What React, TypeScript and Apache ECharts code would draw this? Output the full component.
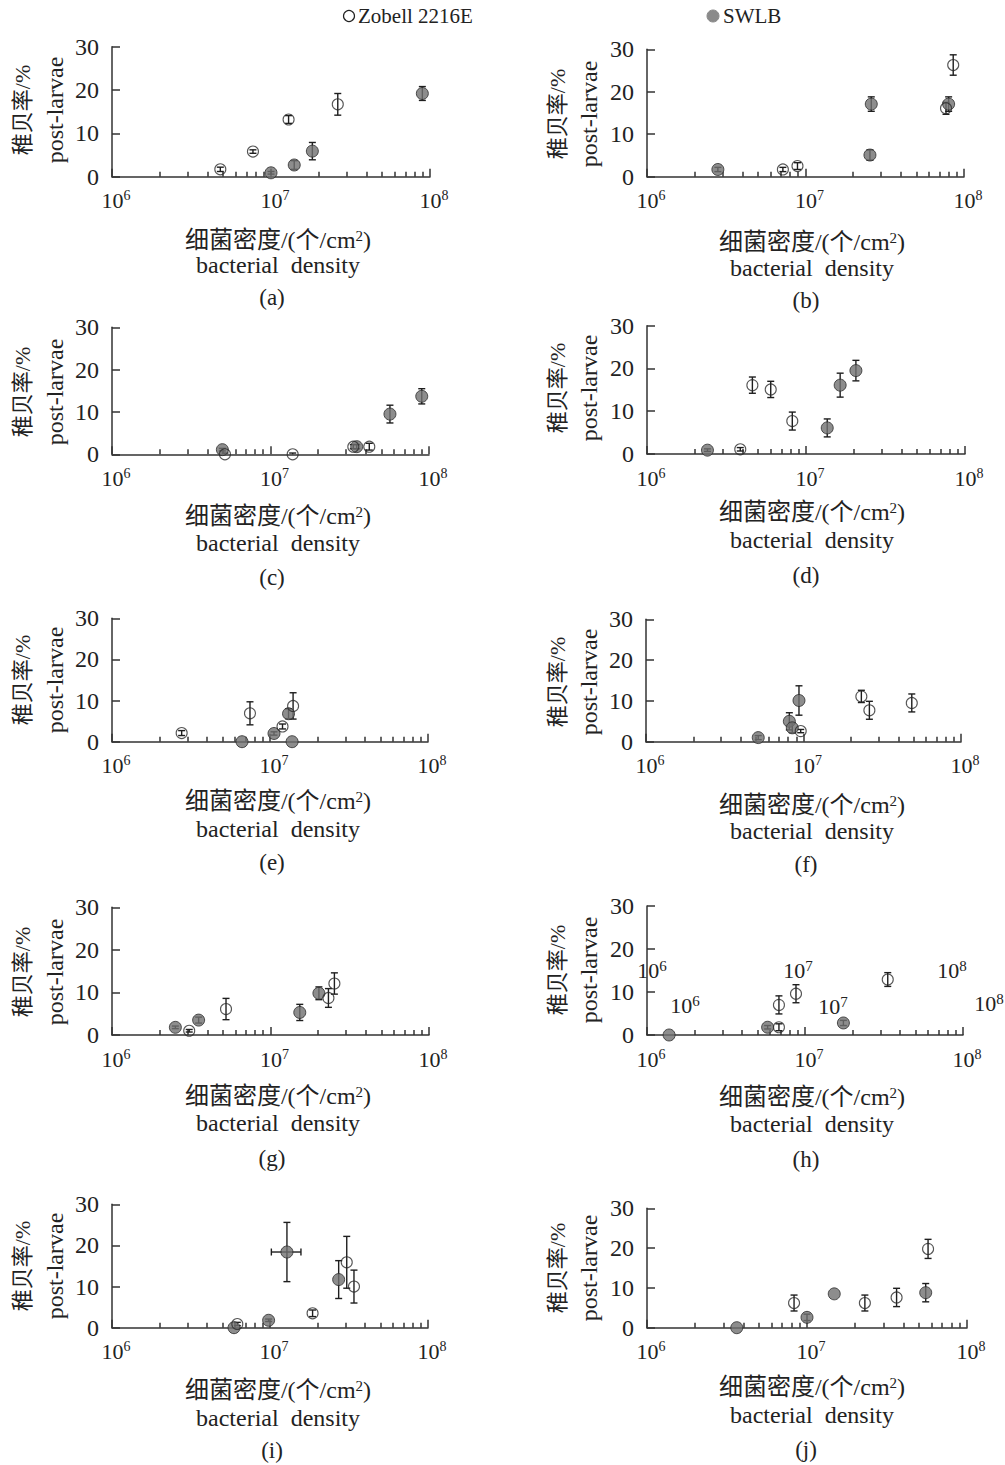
import React, { useEffect, useRef } from "react";
import * as echarts from "echarts";

// ---------------- DATA ----------------
const PANEL_LABELS = ["(a)", "(b)", "(c)", "(d)", "(e)", "(f)", "(g)", "(h)", "(i)", "(j)"];
const Y_MIN = 0;
const Y_MAX = 30;
const Y_STEP = 10;
const X_DECADE_MIN = 6; // 10^6
const X_DECADE_MAX = 8; // 10^8
const MINOR_MULTIPLIERS = [2, 3, 4, 5, 6, 7, 8, 9];
const LEGEND_NAMES = ["Zobell 2216E", "SWLB"];
const X_TITLE = "细菌密度/(个/cm{s|2})";
const X_TITLE_EN = "bacterial\u00a0\u00a0density";
const Y_TITLE_CN = "稚贝率/%";
const Y_TITLE_EN = "post-larvae";

// (a)
const aZobellX = [4.8e6, 7.7e6, 1.29e7, 2.63e7];
const aZobellY = [1.7, 5.8, 13.2, 16.7];
const aZobellErr = [0.5, 0.4, 0.9, 2.5];
const aSwlbX = [1.0e7, 1.4e7, 1.82e7, 8.95e7];
const aSwlbY = [0.9, 2.7, 5.9, 19.2];
const aSwlbErr = [0.3, 1.0, 2.0, 1.6];
// (b)
const bZobellX = [7.2e6, 8.9e6, 7.7e7, 8.55e7];
const bZobellY = [1.7, 2.5, 16.1, 26.3];
const bZobellErr = [0.5, 0.8, 1.4, 2.4];
const bSwlbX = [2.8e6, 2.55e7, 2.6e7, 8.0e7];
const bSwlbY = [1.7, 5.1, 17.1, 17.1];
const bSwlbErr = [0.5, 1.2, 1.7, 1.7];
// (c)
const cZobellX = [5.16e6, 1.38e7, 3.33e7, 4.2e7];
const cZobellY = [0, 0, 1.8, 1.8];
const cZobellErr = [0.3, 0.3, 0.5, 0.8];
const cSwlbX = [4.97e6, 3.5e7, 5.67e7, 9.0e7];
const cSwlbY = [1.1, 1.8, 9.5, 13.7];
const cSwlbErr = [0.3, 0.5, 2.1, 1.8];
// (d)
const dZobellX = [3.86e6, 4.6e6, 6.0e6, 8.2e6];
const dZobellY = [1.1, 16.1, 15.1, 7.7];
const dZobellErr = [0.4, 1.9, 1.9, 2.1];
const dSwlbX = [2.4e6, 1.36e7, 1.64e7, 2.06e7];
const dSwlbY = [0.9, 6.1, 16.1, 19.5];
const dSwlbErr = [0.3, 2.1, 2.8, 2.4];
// (e)
const eZobellX = [2.76e6, 7.47e6, 1.2e7, 1.4e7];
const eZobellY = [2.1, 6.9, 3.7, 8.7];
const eZobellErr = [0.6, 2.8, 0.6, 3.2];
const eSwlbX = [6.65e6, 1.06e7, 1.31e7, 1.38e7];
const eSwlbY = [0, 2.0, 6.8, 0];
const eSwlbErr = [0, 0.4, 1.2, 0];
// (f)
const fZobellX = [9.6e6, 2.33e7, 2.62e7, 4.87e7];
const fZobellY = [2.6, 11.1, 7.7, 9.5];
const fZobellErr = [0.4, 1.5, 2.2, 2.2];
const fSwlbX = [5.16e6, 8.13e6, 8.49e6, 9.36e6];
const fSwlbY = [1.0, 5.0, 3.4, 10.1];
const fSwlbErr = [0.5, 2.1, 1.2, 3.6];
// (g)
const gZobellX = [3.07e6, 5.24e6, 2.32e7, 2.53e7];
const gZobellY = [1.0, 6.1, 8.7, 12.1];
const gZobellErr = [0.3, 2.5, 2.2, 2.5];
const gSwlbX = [2.51e6, 3.52e6, 1.53e7, 2.02e7];
const gSwlbY = [1.8, 3.5, 5.3, 9.8];
const gSwlbErr = [0.3, 0.7, 1.9, 1.5];
// (h)
const hZobellX = [6.84e6, 6.84e6, 8.77e6, 3.34e7];
const hZobellY = [1.8, 7.0, 9.6, 12.9];
const hZobellErr = [0.8, 2.1, 2.1, 1.6];
const hSwlbX = [1.38e6, 5.8e6, 1.75e7];
const hSwlbY = [0, 1.8, 2.8];
const hSwlbErr = [0, 0.4, 0.6];
// stray exponent labels printed inside panel (h)
const hStrayExponents = [6, 7, 8, 6, 7, 8];
// (i)
const iZobellX = [6.21e6, 1.86e7, 3.06e7, 3.4e7];
const iZobellY = [0.9, 3.5, 15.9, 10.0];
const iZobellErr = [0.4, 0.8, 6.3, 4.0];
const iSwlbX = [5.92e6, 9.8e6, 1.28e7, 2.72e7];
const iSwlbY = [0, 1.8, 18.4, 11.7];
const iSwlbErr = [0, 0.3, 7.2, 4.6];
const iSwlbXLow = [null, null, 1.02e7, null];
const iSwlbXHigh = [null, null, 1.57e7, null];
// (j)
const jZobellX = [8.3e6, 2.3e7, 3.63e7, 5.71e7];
const jZobellY = [6.2, 6.2, 7.6, 19.8];
const jZobellErr = [2.0, 2.0, 2.3, 2.4];
const jSwlbX = [3.64e6, 1.0e7, 1.48e7, 5.52e7];
const jSwlbY = [0, 2.6, 8.5, 8.8];
const jSwlbErr = [0, 0.8, 0, 2.3];

const PANELS: any[] = [
  { zx: aZobellX, zy: aZobellY, ze: aZobellErr, sx: aSwlbX, sy: aSwlbY, se: aSwlbErr },
  { zx: bZobellX, zy: bZobellY, ze: bZobellErr, sx: bSwlbX, sy: bSwlbY, se: bSwlbErr },
  { zx: cZobellX, zy: cZobellY, ze: cZobellErr, sx: cSwlbX, sy: cSwlbY, se: cSwlbErr },
  { zx: dZobellX, zy: dZobellY, ze: dZobellErr, sx: dSwlbX, sy: dSwlbY, se: dSwlbErr },
  { zx: eZobellX, zy: eZobellY, ze: eZobellErr, sx: eSwlbX, sy: eSwlbY, se: eSwlbErr },
  { zx: fZobellX, zy: fZobellY, ze: fZobellErr, sx: fSwlbX, sy: fSwlbY, se: fSwlbErr },
  { zx: gZobellX, zy: gZobellY, ze: gZobellErr, sx: gSwlbX, sy: gSwlbY, se: gSwlbErr },
  { zx: hZobellX, zy: hZobellY, ze: hZobellErr, sx: hSwlbX, sy: hSwlbY, se: hSwlbErr },
  { zx: iZobellX, zy: iZobellY, ze: iZobellErr, sx: iSwlbX, sy: iSwlbY, se: iSwlbErr, sxl: iSwlbXLow, sxh: iSwlbXHigh },
  { zx: jZobellX, zy: jZobellY, ze: jZobellErr, sx: jSwlbX, sy: jSwlbY, se: jSwlbErr },
];

// ---------------- LAYOUT / STYLE ----------------
const FONT = "'Liberation Serif', 'Times New Roman', 'Noto Sans CJK SC', serif";
const CJK_FONT = "'Liberation Serif', 'Noto Sans CJK SC', serif";
const INK = "#222";
const AXIS_COLOR = "#333";
const FILL_GRAY = "#707070";

const LAYOUT = [
  { l: 112, r: 430, t: 46.7, b: 176.7 },
  { l: 647, r: 964, t: 49.3, b: 176.7 },
  { l: 112, r: 429, t: 327.3, b: 454.3 },
  { l: 647, r: 965, t: 325.7, b: 454 },
  { l: 112, r: 428, t: 618.3, b: 741.7 },
  { l: 646, r: 961, t: 619.3, b: 741.7 },
  { l: 112, r: 429, t: 907.3, b: 1035 },
  { l: 647, r: 963, t: 906, b: 1035 },
  { l: 112, r: 428, t: 1204.3, b: 1327.7 },
  { l: 647, r: 967, t: 1208.3, b: 1327.7 },
];

const TEXT_POS = [
  { cx: 278, l1: 240, l2: 265, lab: 297, yc: 110, yx1: 22, yx2: 55 },
  { cx: 812, l1: 242, l2: 268, lab: 300, yc: 114, yx1: 557, yx2: 589 },
  { cx: 278, l1: 516, l2: 543, lab: 577, yc: 392, yx1: 22, yx2: 55 },
  { cx: 812, l1: 512, l2: 540, lab: 575, yc: 388, yx1: 557, yx2: 589 },
  { cx: 278, l1: 801, l2: 829, lab: 862, yc: 680, yx1: 22, yx2: 55 },
  { cx: 812, l1: 805, l2: 831, lab: 864, yc: 682, yx1: 557, yx2: 589 },
  { cx: 278, l1: 1096, l2: 1123, lab: 1158, yc: 972, yx1: 22, yx2: 55 },
  { cx: 812, l1: 1097, l2: 1124, lab: 1159, yc: 970, yx1: 557, yx2: 589 },
  { cx: 278, l1: 1390, l2: 1418, lab: 1450, yc: 1266, yx1: 22, yx2: 55 },
  { cx: 812, l1: 1387, l2: 1415, lab: 1449, yc: 1268, yx1: 557, yx2: 589 },
];

const H_STRAY_POS = [
  { x: 652, y: 970 },
  { x: 798, y: 970 },
  { x: 952, y: 970 },
  { x: 685, y: 1005 },
  { x: 833, y: 1006 },
  { x: 989, y: 1003 },
];

const SUP_RICH = {
  b: { fontSize: 22, fontFamily: FONT, color: INK, lineHeight: 24 },
  s: { fontSize: 14, fontFamily: FONT, color: INK, verticalAlign: "top", lineHeight: 14 },
};

function minorTicks(): number[] {
  const out: number[] = [];
  for (let d = X_DECADE_MIN; d < X_DECADE_MAX; d++) {
    MINOR_MULTIPLIERS.forEach((k) => out.push(Math.log10(k * Math.pow(10, d))));
  }
  return out;
}

function errorBarRender(params: any, api: any) {
  const x = api.value(0);
  const y = api.value(1);
  const e = api.value(2);
  const xl = api.value(3);
  const xh = api.value(4);
  const style = { stroke: "#1e1e1e", lineWidth: 1.4 };
  const cap = 3.5;
  const children: any[] = [];
  if (e > 0) {
    const p1 = api.coord([x, y + e]);
    const lo = Math.max(Y_MIN, y - e);
    const p2 = api.coord([x, lo]);
    children.push({ type: "line", shape: { x1: p1[0], y1: p1[1], x2: p2[0], y2: p2[1] }, style });
    children.push({ type: "line", shape: { x1: p1[0] - cap, y1: p1[1], x2: p1[0] + cap, y2: p1[1] }, style });
    if (y - e > Y_MIN) {
      children.push({ type: "line", shape: { x1: p2[0] - cap, y1: p2[1], x2: p2[0] + cap, y2: p2[1] }, style });
    }
  }
  if (xh - xl > 1e-9) {
    const q1 = api.coord([xl, y]);
    const q2 = api.coord([xh, y]);
    children.push({ type: "line", shape: { x1: q1[0], y1: q1[1], x2: q2[0], y2: q2[1] }, style });
    children.push({ type: "line", shape: { x1: q1[0], y1: q1[1] - cap, x2: q1[0], y2: q1[1] + cap }, style });
    children.push({ type: "line", shape: { x1: q2[0], y1: q2[1] - cap, x2: q2[0], y2: q2[1] + cap }, style });
  }
  return { type: "group", children };
}

function buildOption() {
  const grid: any[] = [];
  const xAxis: any[] = [];
  const yAxis: any[] = [];
  const series: any[] = [];
  const graphic: any[] = [];
  const minors = minorTicks();
  const lineStyle = { color: AXIS_COLOR, width: 1.5 };

  LAYOUT.forEach((g, i) => {
    grid.push({ left: g.l, top: g.t, width: g.r - g.l, height: g.b - g.t, containLabel: false });
    xAxis.push({
      type: "value",
      gridIndex: i,
      min: X_DECADE_MIN,
      max: X_DECADE_MAX,
      interval: 1,
      position: "bottom",
      axisLine: { show: true, onZero: false, lineStyle },
      axisTick: { show: true, inside: true, length: 8, lineStyle },
      splitLine: { show: false },
      axisLabel: {
        show: true,
        margin: 12,
        padding: [0, 0, 0, 8],
        formatter: (v: number) => `{b|10}{s|${Math.round(v)}}`,
        rich: SUP_RICH,
      },
    });
    xAxis.push({
      type: "value",
      gridIndex: i,
      min: X_DECADE_MIN,
      max: X_DECADE_MAX,
      position: "bottom",
      axisLine: { show: false, onZero: false },
      axisTick: { show: true, inside: true, length: 5, customValues: minors, lineStyle },
      splitLine: { show: false },
      axisLabel: { show: false },
    });
    yAxis.push({
      type: "value",
      gridIndex: i,
      min: Y_MIN,
      max: Y_MAX,
      interval: Y_STEP,
      axisLine: { show: true, onZero: false, lineStyle },
      axisTick: { show: true, inside: true, length: 8, lineStyle },
      splitLine: { show: false },
      axisLabel: { show: true, margin: 13, fontSize: 24, fontFamily: FONT, color: INK },
    });

    const p = PANELS[i];
    const errData: any[] = [];
    p.sx.forEach((x: number, k: number) => {
      const lx = Math.log10(x);
      const xl = p.sxl && p.sxl[k] != null ? Math.log10(p.sxl[k]) : lx;
      const xh = p.sxh && p.sxh[k] != null ? Math.log10(p.sxh[k]) : lx;
      errData.push([lx, p.sy[k], p.se[k], xl, xh]);
    });
    p.zx.forEach((x: number, k: number) => {
      const lx = Math.log10(x);
      errData.push([lx, p.zy[k], p.ze[k], lx, lx]);
    });
    series.push({
      type: "custom",
      xAxisIndex: 2 * i,
      yAxisIndex: i,
      renderItem: errorBarRender,
      encode: { x: 0, y: 1 },
      data: errData,
      silent: true,
      z: 2,
    });
    series.push({
      name: LEGEND_NAMES[1],
      type: "scatter",
      xAxisIndex: 2 * i,
      yAxisIndex: i,
      symbol: "circle",
      symbolSize: 12,
      itemStyle: { color: FILL_GRAY, borderColor: "#2a2a2a", borderWidth: 1 },
      data: p.sx.map((x: number, k: number) => [Math.log10(x), p.sy[k]]),
      silent: true,
      z: 3,
    });
    series.push({
      name: LEGEND_NAMES[0],
      type: "scatter",
      xAxisIndex: 2 * i,
      yAxisIndex: i,
      symbol: "circle",
      symbolSize: 11,
      itemStyle: { color: "rgba(255,255,255,0)", borderColor: "#2a2a2a", borderWidth: 1.1 },
      data: p.zx.map((x: number, k: number) => [Math.log10(x), p.zy[k]]),
      silent: true,
      z: 4,
    });

    const t = TEXT_POS[i];
    graphic.push({
      type: "text",
      x: t.cx,
      y: t.l1,
      style: {
        text: X_TITLE,
        fontSize: 24,
        fontFamily: CJK_FONT,
        fill: INK,
        align: "center",
        verticalAlign: "middle",
        rich: { s: { fontSize: 15, fontFamily: FONT, fill: INK, verticalAlign: "top", lineHeight: 15 } },
      },
    });
    graphic.push({
      type: "text",
      x: t.cx,
      y: t.l2,
      style: { text: X_TITLE_EN, fontSize: 24, fontFamily: FONT, fill: INK, align: "center", verticalAlign: "middle" },
    });
    graphic.push({
      type: "text",
      x: t.cx - 6,
      y: t.lab,
      style: { text: PANEL_LABELS[i], fontSize: 23, fontFamily: FONT, fill: INK, align: "center", verticalAlign: "middle" },
    });
    graphic.push({
      type: "text",
      x: t.yx1,
      y: t.yc,
      rotation: Math.PI / 2,
      style: { text: Y_TITLE_CN, fontSize: 22, fontFamily: CJK_FONT, fill: INK, align: "center", verticalAlign: "middle" },
    });
    graphic.push({
      type: "text",
      x: t.yx2,
      y: t.yc,
      rotation: Math.PI / 2,
      style: { text: Y_TITLE_EN, fontSize: 24, fontFamily: FONT, fill: INK, align: "center", verticalAlign: "middle" },
    });
  });

  // stray exponent labels inside panel (h)
  hStrayExponents.forEach((e, k) => {
    graphic.push({
      type: "text",
      x: H_STRAY_POS[k].x,
      y: H_STRAY_POS[k].y,
      style: {
        text: `{b|10}{s|${e}}`,
        align: "center",
        verticalAlign: "middle",
        rich: {
          b: { fontSize: 22, fontFamily: FONT, fill: INK, lineHeight: 24 },
          s: { fontSize: 15, fontFamily: FONT, fill: INK, verticalAlign: "top", lineHeight: 15 },
        },
      },
    });
  });

  // legend
  graphic.push({ type: "circle", shape: { cx: 349, cy: 16, r: 5.5 }, style: { fill: "#fff", stroke: "#222", lineWidth: 1.2 } });
  graphic.push({
    type: "text",
    x: 358,
    y: 16,
    style: { text: LEGEND_NAMES[0], fontSize: 21, fontFamily: FONT, fill: INK, align: "left", verticalAlign: "middle" },
  });
  graphic.push({ type: "circle", shape: { cx: 713, cy: 16, r: 6 }, style: { fill: "#8a8a8a", stroke: "#8a8a8a", lineWidth: 1 } });
  graphic.push({
    type: "text",
    x: 723,
    y: 16,
    style: { text: LEGEND_NAMES[1], fontSize: 21, fontFamily: FONT, fill: INK, align: "left", verticalAlign: "middle" },
  });

  return {
    animation: false,
    backgroundColor: "#fff",
    grid,
    xAxis,
    yAxis,
    series,
    graphic,
  };
}

export default function App() {
  const ref = useRef<HTMLDivElement>(null);
  useEffect(() => {
    const chart = echarts.init(ref.current as HTMLDivElement, null, { renderer: "svg" });
    chart.setOption(buildOption() as any);
    return () => chart.dispose();
  }, []);
  return (
    <div
      ref={ref}
      style={{ position: "absolute", left: 0, top: 0, width: 1005, height: 1465, background: "#fff" }}
    />
  );
}
